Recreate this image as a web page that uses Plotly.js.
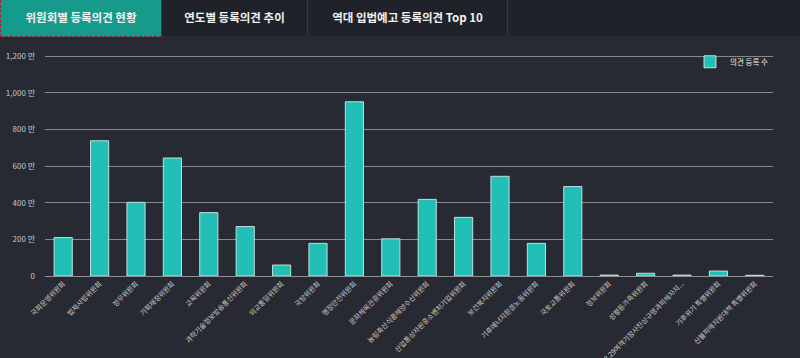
<!DOCTYPE html>
<html>
<head>
<meta charset="utf-8">
<script src="https://cdn.plot.ly/plotly-3.0.1.min.js"></script>
<style>
  html, body { margin:0; padding:0; background:#272a32; width:800px; height:358px; overflow:hidden; font-family:"Noto Sans CJK KR","Noto Sans",sans-serif; }
  #tabs { position:absolute; left:0; top:0; width:800px; height:36px; background:#1f2229; z-index:2; }
  .tab { position:absolute; top:0; height:36px; line-height:35px; text-align:center; color:#f2f2f2; font-weight:700; font-size:11.5px; box-sizing:border-box; border-right:1px solid #363941; }
  #t1 { left:0; width:162px; background:#169a8b; border-left:1px dashed #a3202c; border-bottom:1px dashed #a3202c; height:37px; }
  #t2 { left:162px; width:146px; }
  #t3 { left:308px; width:200px; }
  #chart { position:absolute; left:0; top:0; width:800px; height:358px; }
</style>
</head>
<body>
<div id="chart"></div>
<div id="tabs">
  <div class="tab" id="t1">위원회별 등록의견 현황</div>
  <div class="tab" id="t2">연도별 등록의견 추이</div>
  <div class="tab" id="t3">역대 입법예고 등록의견 Top 10</div>
</div>
<script>
const committees = [
  "국회운영위원회", "법제사법위원회", "정무위원회", "기획재정위원회", "교육위원회",
  "과학기술정보방송통신위원회", "외교통일위원회", "국방위원회", "행정안전위원회", "문화체육관광위원회",
  "농림축산식품해양수산위원회", "산업통상자원중소벤처기업위원회", "보건복지위원회", "기후에너지환경노동위원회", "국토교통위원회",
  "정보위원회", "성평등가족위원회", "12.29여객기참사진상규명과피해자지...", "기후위기 특별위원회", "산불피해지원대책 특별위원회"
];
// 의견 등록 수 (만 건)
const opinionCounts = [210, 738, 402, 644, 346, 270, 60, 178, 951, 203, 418, 320, 544, 178, 488, 5, 15, 5, 27, 4];
const yTickVals = [0, 200, 400, 600, 800, 1000, 1200];
const yTickText = ["0", "200 만", "400 만", "600 만", "800 만", "1,000 만", "1,200 만"];
const seriesName = "의견 등록 수";

const trace = {
  type: "bar",
  x: committees,
  y: opinionCounts,
  name: seriesName,
  marker: { color: "#22bfb6", line: { color: "rgba(215,240,238,0.85)", width: 1 } },
  hoverinfo: "x+y"
};

const layout = {
  width: 800, height: 358,
  paper_bgcolor: "#272a32",
  plot_bgcolor: "#272a32",
  margin: { l: 45, r: 27, t: 55, b: 82, pad: 0 },
  bargap: 0.5,
  showlegend: true,
  legend: {
    x: 1, xanchor: "right", y: 1.035, yanchor: "top",
    font: { size: 7.5, color: "#e8e8e8", family: "Noto Sans CJK KR" },
    bgcolor: "rgba(0,0,0,0)", itemwidth: 30
  },
  font: { family: "Noto Sans CJK KR", color: "#cfcfcf" },
  xaxis: {
    type: "category",
    tickangle: -45,
    tickfont: { size: 7, color: "#cccccc", family: "Noto Sans CJK KR" },
    showgrid: false,
    showline: true, linecolor: "#8d9097", linewidth: 1,
    ticks: "", ticklen: 0,
    automargin: false,
    range: [-0.5, 19.5],
    fixedrange: true
  },
  yaxis: {
    range: [0, 1206],
    tickvals: yTickVals,
    ticktext: yTickText,
    tickfont: { size: 8, color: "#c8c8c8", family: "Noto Sans CJK KR" },
    showgrid: true, gridcolor: "#85888e", gridwidth: 1,
    zeroline: true, zerolinecolor: "#8d9097", zerolinewidth: 1,
    showline: false,
    ticks: "", ticklabelstandoff: 9,
    automargin: false,
    fixedrange: true
  }
};

Plotly.newPlot("chart", [trace], layout, { displayModeBar: false, staticPlot: true });
</script>
</body>
</html>
